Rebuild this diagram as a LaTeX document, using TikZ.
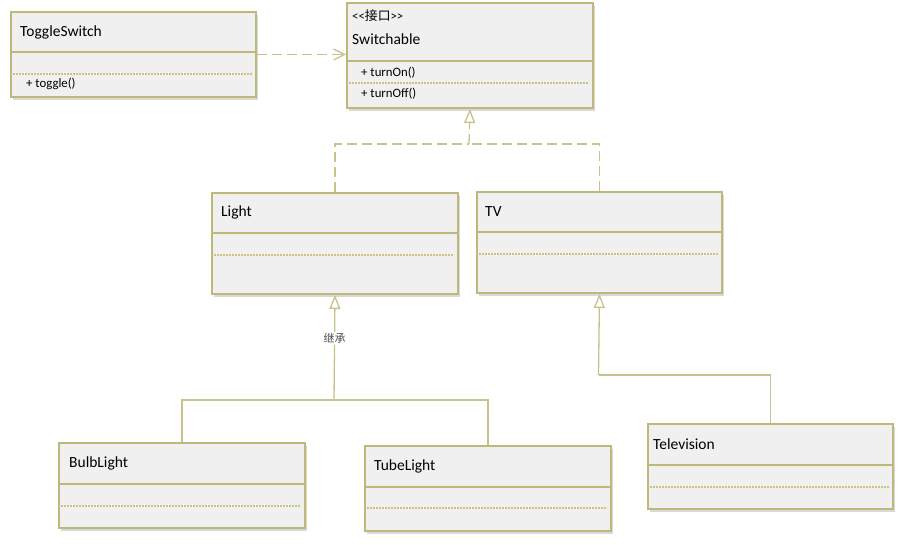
\documentclass[tikz,border=0pt]{standalone}
\usepackage{fontspec}
\setmainfont{Carlito}
\newfontfamily\cjk{Noto Sans CJK SC}
\usetikzlibrary{arrows.meta,shadows}

\definecolor{umlborder}{RGB}{190,184,122}
\definecolor{umlfill}{RGB}{240,240,240}
\definecolor{umldots}{RGB}{204,195,128}
\definecolor{umlline}{RGB}{200,194,142}

\tikzset{
    classbox/.style={draw=umlborder, line width=2pt, fill=umlfill, anchor=north west, inner sep=0pt,
        drop shadow={shadow xshift=2pt, shadow yshift=-3pt, opacity=0.3, fill=black!50}},
    classname/.style={anchor=west, inner sep=0pt, font=\fontsize{15.5}{18}\selectfont},
    member/.style={anchor=west, inner sep=0pt, font=\fontsize{12.8}{15}\selectfont},
    part/.style={draw=umlborder, line width=2pt},
    dots/.style={draw=umldots, line width=1.1pt, dash pattern=on 2pt off 1pt},
    link/.style={draw=umlline, line width=1.3pt},
    realize/.style={link, dash pattern=on 10pt off 5pt},
    hollow/.style={-{Triangle[open, length=14pt, width=11pt]}}
}

\begin{document}
\begin{tikzpicture}[x=1pt, y=-1pt]
        \useasboundingbox (0,0) rectangle (902,545);

        \node[classbox, minimum width=245pt, minimum height=85pt] (toggle) at (10,11) {};
        \node[classbox, minimum width=246pt, minimum height=105pt] (switch) at (346,2) {};
        \node[classbox, minimum width=246pt, minimum height=101pt] (light) at (211,192) {};
        \node[classbox, minimum width=245pt, minimum height=101pt] (tv) at (476,191) {};
        \node[classbox, minimum width=246pt, minimum height=85pt] (bulb) at (58,442) {};
        \node[classbox, minimum width=246pt, minimum height=85pt] (tube) at (364,445) {};
        \node[classbox, minimum width=245pt, minimum height=85pt] (tele) at (647,423) {};

        \draw[part] (10,52) -- (255,52);
        \draw[dots] (13,74) -- (252,74);
        \draw[part] (346,61) -- (592,61);
        \draw[dots] (349,83) -- (589,83);
        \draw[part] (211,233) -- (457,233);
        \draw[dots] (214,255) -- (454,255);
        \draw[part] (476,232) -- (721,232);
        \draw[dots] (479,254) -- (718,254);
        \draw[part] (58,484) -- (304,484);
        \draw[dots] (61,506) -- (301,506);
        \draw[part] (364,487) -- (610,487);
        \draw[dots] (367,508) -- (607,508);
        \draw[part] (647,465) -- (892,465);
        \draw[dots] (650,487) -- (889,487);

        \node[classname] (toggle-name) at (20,32) {ToggleSwitch};
        \node[member] (toggle-op) at (26,84) {+ toggle()};
        \node[member] (switch-type) at (352,16) {<\kern0pt<{\cjk 接口}>\kern0pt>};
        \node[classname] (switch-name) at (352,39) {Switchable};
        \node[member] (switch-on) at (361,73) {+ turnOn()};
        \node[member] (switch-off) at (361,94) {+ turnOff()};
        \node[classname] (light-name) at (221,212) {Light};
        \node[classname] (tv-name) at (485,212) {TV};
        \node[classname] (bulb-name) at (69,463) {BulbLight};
        \node[classname] (tube-name) at (374,466) {TubeLight};
        \node[classname] (tele-name) at (653,444) {Television};

        \draw[realize, -{Straight Barb[length=11pt, width=11pt]}] (toggle.east) -- (toggle.east -| switch.west);

        \coordinate (rjoin) at (469,144);
        \draw[realize] (light.north) |- (rjoin);
        \draw[realize] (tv.north) |- (rjoin);
        \draw[realize, hollow] (rjoin) -- (switch.south);

        \coordinate (gjoin) at (334,400);
        \draw[link] (bulb.north) |- (gjoin);
        \draw[link] (tube.north) |- (gjoin);
        \draw[link, hollow] (gjoin) -- node[pos=0.59, fill=white, inner sep=1.5pt, text=black!70, font=\fontsize{11}{13}\selectfont\cjk] (inherit) {继承} (light.south);

        \coordinate (tjoin) at (598.5,375);
        \draw[link] (tele.north) |- (tjoin);
        \draw[link, hollow] (tjoin) -- (tv.south);
    \end{tikzpicture}
\end{document}
